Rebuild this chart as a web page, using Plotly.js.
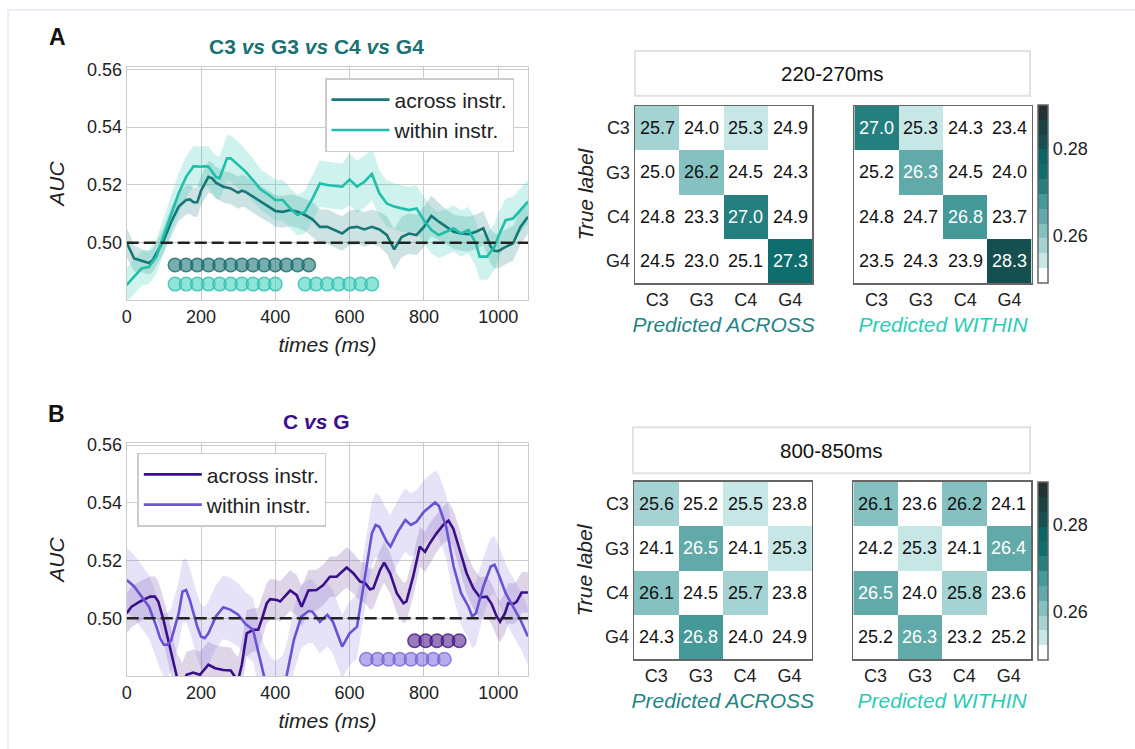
<!DOCTYPE html>
<html>
<head>
<meta charset="utf-8">
<script src="https://cdn.plot.ly/plotly-3.0.1.min.js"></script>
<style>
  html, body { margin: 0; padding: 0; background: #ffffff; }
  #chart { width: 1135px; height: 749px; }
</style>
</head>
<body>
<div id="chart"></div>
<script>
// ---------------- DATA ----------------
// Panel A: C3 vs G3 vs C4 vs G4
const tA_across = [0,10,20,40,60,70,80,100,120,140,160,170,180,190,200,220,230,240,260,280,300,310,320,340,360,380,400,420,440,460,480,500,520,540,560,580,600,620,640,660,680,700,720,740,760,780,800,820,840,860,880,900,920,940,960,980,990,1000,1020,1040,1060,1080];
const aucA_across = [0.500,0.4975,0.4946,0.4938,0.4930,0.4940,0.4963,0.5010,0.5073,0.5125,0.5148,0.5150,0.5140,0.5140,0.5180,0.5228,0.5223,0.5208,0.5194,0.5188,0.5173,0.5180,0.5176,0.5159,0.5142,0.5128,0.5110,0.5107,0.5113,0.5107,0.5096,0.5081,0.5055,0.5055,0.5044,0.5032,0.5052,0.5055,0.5046,0.5055,0.5046,0.5027,0.4977,0.5020,0.5032,0.5027,0.5055,0.5093,0.5073,0.5055,0.5038,0.5032,0.5030,0.5038,0.5050,0.4986,0.4972,0.4971,0.4986,0.4998,0.5055,0.5090];
const semA_across = [.005,.005,.0045,.004,.004,.004,.004,.0045,.005,.005,.005,.005,.005,.005,.005,.0055,.0055,.0055,.0055,.0055,.0055,.0055,.0055,.0055,.0055,.0055,.0055,.0055,.0055,.0055,.0055,.006,.006,.006,.006,.006,.006,.006,.006,.006,.006,.0065,.007,.007,.007,.007,.007,.007,.0065,.006,.006,.006,.006,.006,.006,.006,.006,.006,.006,.006,.006,.006];

const tA_within = [0,20,40,60,80,100,120,140,160,180,200,210,220,240,250,270,280,300,320,340,360,380,400,420,440,460,480,500,520,540,560,580,600,620,640,660,680,700,720,740,760,780,800,820,840,860,880,900,920,940,950,970,990,1000,1020,1040,1060,1080];
const aucA_within = [0.4854,0.4882,0.4911,0.4917,0.4952,0.5027,0.5101,0.5171,0.5228,0.5265,0.5263,0.5265,0.5263,0.5228,0.5223,0.5292,0.5292,0.5269,0.5246,0.5217,0.5185,0.5168,0.5148,0.5148,0.5119,0.5096,0.5107,0.5153,0.5205,0.5200,0.5196,0.5194,0.5219,0.5194,0.5211,0.5238,0.5171,0.5136,0.5125,0.5119,0.5113,0.5119,0.5078,0.5044,0.5027,0.5038,0.5050,0.5032,0.5044,0.4998,0.4952,0.4952,0.4986,0.5021,0.5078,0.5084,0.5113,0.5142];
const semA_within = [.006,.006,.006,.006,.006,.006,.0065,.007,.007,.007,.007,.007,.007,.0075,.0075,.008,.008,.008,.0075,.0075,.007,.007,.007,.007,.007,.007,.0075,.008,.008,.008,.008,.008,.009,.009,.009,.009,.008,.008,.008,.008,.008,.008,.008,.008,.008,.008,.008,.008,.008,.008,.008,.008,.008,.008,.0075,.0075,.0075,.0075];

const sigA_across = [130,160,190,220,250,280,310,340,370,400,430,460,490];
const sigA_within = [130,160,190,220,250,280,310,340,370,400,480,510,540,570,600,630,660];

// Panel B: C vs G
const tB_across = [0,13,36,63,76,85,99,112,126,135,150,161,179,197,220,238,260,280,291,300,310,323,341,354,363,377,386,404,413,440,457,471,489,511,529,547,565,583,592,610,628,641,655,664,682,693,709,727,745,753,771,789,803,816,834,852,866,879,897,915,933,951,969,982,996,1005,1018,1027,1041,1050,1063,1080];
const aucB_across = [0.5017,0.5040,0.5058,0.5075,0.5075,0.5058,0.4994,0.4925,0.4844,0.4798,0.4765,0.4804,0.4812,0.4804,0.4839,0.4827,0.4821,0.4819,0.4798,0.4785,0.4840,0.4948,0.4960,0.4960,0.4994,0.5052,0.5066,0.5063,0.5058,0.5096,0.5081,0.5040,0.5096,0.5098,0.5115,0.5144,0.5144,0.5167,0.5176,0.5156,0.5127,0.5123,0.5100,0.5104,0.5167,0.5193,0.5156,0.5087,0.5052,0.5058,0.5144,0.5248,0.5230,0.5260,0.5294,0.5323,0.5338,0.5311,0.5236,0.5156,0.5104,0.5072,0.5075,0.5050,0.5006,0.4988,0.5017,0.5052,0.5050,0.5058,0.5089,0.5089];
const semB_across = [.007,.007,.007,.007,.007,.007,.0075,.008,.008,.008,.008,.008,.008,.008,.008,.008,.008,.008,.008,.008,.008,.008,.0075,.0075,.0075,.007,.007,.007,.007,.007,.007,.007,.007,.007,.007,.007,.007,.007,.007,.007,.007,.007,.007,.007,.007,.007,.007,.007,.007,.007,.007,.007,.007,.007,.0065,.0065,.0065,.0065,.007,.007,.007,.007,.007,.007,.007,.007,.007,.007,.007,.007,.007,.007];

const tB_within = [0,20,40,60,80,90,100,110,120,140,150,160,170,190,200,210,220,240,260,280,300,320,340,360,370,385,400,420,430,450,470,490,500,520,540,555,570,580,600,620,640,660,670,680,700,710,730,750,765,780,800,830,840,860,880,900,920,930,940,960,980,990,1000,1020,1040,1060,1080];
const aucB_within = [0.5133,0.5110,0.5075,0.5040,0.4971,0.4931,0.4908,0.4908,0.4925,0.5017,0.5092,0.5098,0.5063,0.4971,0.4937,0.4931,0.4948,0.5006,0.5038,0.5029,0.5012,0.4980,0.4960,0.4844,0.4798,0.4760,0.4740,0.4760,0.4798,0.4925,0.5006,0.5025,0.5023,0.4988,0.5012,0.4988,0.4937,0.4902,0.4948,0.4971,0.5133,0.5294,0.5323,0.5317,0.5265,0.5248,0.5300,0.5340,0.5323,0.5334,0.5369,0.5401,0.5390,0.5317,0.5179,0.5087,0.5040,0.5006,0.5017,0.5110,0.5179,0.5185,0.5156,0.5087,0.5040,0.4994,0.4937];
const semB_within = [.011,.011,.011,.011,.011,.011,.011,.011,.011,.011,.011,.011,.011,.011,.011,.011,.011,.011,.011,.011,.011,.011,.011,.011,.011,.011,.011,.011,.011,.011,.011,.011,.011,.011,.011,.011,.011,.011,.011,.011,.011,.011,.011,.011,.011,.011,.011,.011,.011,.011,.011,.011,.011,.011,.011,.011,.011,.011,.011,.01,.01,.01,.01,.01,.01,.01,.01];

const sigB_across = [775,805,835,865,895];
const sigB_within = [645,675,705,735,765,795,825,855];

// Confusion matrices (percent)
const labels = ['C3','G3','C4','G4'];
const confA_across = [[25.7,24.0,25.3,24.9],[25.0,26.2,24.5,24.3],[24.8,23.3,27.0,24.9],[24.5,23.0,25.1,27.3]];
const confA_within = [[27.0,25.3,24.3,23.4],[25.2,26.3,24.5,24.0],[24.8,24.7,26.8,23.7],[23.5,24.3,23.9,28.3]];
const confB_across = [[25.6,25.2,25.5,23.8],[24.1,26.5,24.1,25.3],[26.1,24.5,25.7,23.8],[24.3,26.8,24.0,24.9]];
const confB_within = [[26.1,23.6,26.2,24.1],[24.2,25.3,24.1,26.4],[26.5,24.0,25.8,23.6],[25.2,26.3,23.2,25.2]];

const windowA = '220-270ms';
const windowB = '800-850ms';
const timeTicks = [0,200,400,600,800,1000];
const aucTicks = [0.50,0.52,0.54,0.56];
const cbarTicks = [0.26,0.28];

// ---------------- STYLE ----------------
const W = 1135, H = 749;
const FONT = 'Liberation Sans, Arial, sans-serif';
const px = v => v / W;
const py = v => 1 - v / H;

const colA_across = '#177777', colA_within = '#1fbfaa';
const colB_across = '#3b0f8c', colB_within = '#6a52d6';

const binColors = ['#ffffff','#c7e7e7','#a5d3d3','#86c1c1','#62aaaa','#469999','#267f7f','#0f6d6d','#0c6464','#164f4f','#1b4242','#223232'];
const zmin = 0.24915, zmax = 0.28995;
const colorscale = [];
binColors.forEach((c, i) => {
  colorscale.push([i / binColors.length, c]);
  colorscale.push([(i + 1) / binColors.length, c]);
});

function band(t, m, s, xa, ya, fill) {
  const up = m.map((v, i) => v + s[i]);
  const lo = m.map((v, i) => v - s[i]);
  return {
    x: t.concat(t.slice().reverse()),
    y: up.concat(lo.slice().reverse()),
    type: 'scatter', mode: 'lines', fill: 'toself', fillcolor: fill,
    line: {width: 0, color: 'rgba(0,0,0,0)'}, hoverinfo: 'skip', showlegend: false,
    xaxis: xa, yaxis: ya
  };
}
function line(t, m, color, name, xa, ya, legend) {
  return {x: t, y: m, type: 'scatter', mode: 'lines', name: name,
    line: {color: color, width: 2.6}, xaxis: xa, yaxis: ya, legend: legend, showlegend: true};
}
function dots(t, yv, fill, edge, xa, ya) {
  return {x: t, y: t.map(() => yv), type: 'scatter', mode: 'markers', showlegend: false,
    marker: {size: 13.5, color: fill, line: {color: edge, width: 1.5}}, xaxis: xa, yaxis: ya, cliponaxis: false};
}
function heat(conf, xa, ya, showscale, cbY) {
  const tr = {
    z: conf.map(r => r.map(v => v / 100)), x: labels, y: labels, type: 'heatmap',
    zmin: zmin, zmax: zmax, colorscale: colorscale, showscale: showscale,
    xaxis: xa, yaxis: ya, hoverinfo: 'skip'
  };
  if (showscale) {
    tr.colorbar = {x: px(1038), xanchor: 'left', y: cbY, yanchor: 'middle',
      len: 178 / H, lenmode: 'fraction', thickness: 10, thicknessmode: 'pixels',
      outlinecolor: '#666666', outlinewidth: 1.5, tickvals: cbarTicks, tickformat: '.2f',
      ticks: '', tickfont: {size: 18, color: '#222', family: FONT}, xpad: 0, ypad: 0, ticklabelpad: 6};
  }
  return tr;
}

const data = [
  band(tA_across, aucA_across, semA_across, 'x', 'y', 'rgba(26,128,128,0.22)'),
  band(tA_within, aucA_within, semA_within, 'x', 'y', 'rgba(60,205,185,0.25)'),
  line(tA_across, aucA_across, colA_across, 'across instr.', 'x', 'y', 'legend'),
  line(tA_within, aucA_within, colA_within, 'within instr.', 'x', 'y', 'legend'),
  dots(sigA_across, 0.4923, 'rgba(30,120,120,0.6)', 'rgba(20,100,100,0.75)', 'x', 'y'),
  dots(sigA_within, 0.4857, 'rgba(70,210,190,0.6)', 'rgba(40,190,170,0.75)', 'x', 'y'),

  band(tB_across, aucB_across, semB_across, 'x2', 'y2', 'rgba(105,65,150,0.22)'),
  band(tB_within, aucB_within, semB_within, 'x2', 'y2', 'rgba(140,125,225,0.22)'),
  line(tB_across, aucB_across, colB_across, 'across instr.', 'x2', 'y2', 'legend2'),
  line(tB_within, aucB_within, colB_within, 'within instr.', 'x2', 'y2', 'legend2'),
  dots(sigB_across, 0.4922, 'rgba(85,35,145,0.6)', 'rgba(60,15,120,0.75)', 'x2', 'y2'),
  dots(sigB_within, 0.4858, 'rgba(125,105,220,0.55)', 'rgba(110,90,210,0.7)', 'x2', 'y2'),

  heat(confA_across, 'x3', 'y3', false),
  heat(confA_within, 'x4', 'y4', true, 1 - 194.2 / H),
  heat(confB_across, 'x5', 'y5', false),
  heat(confB_within, 'x6', 'y6', true, 1 - 570.5 / H)
];

const tickFont = {size: 18, color: '#222', family: FONT};
function lineX(domain, anchor) {
  return {domain: domain, anchor: anchor, range: [0, 1081], tickvals: timeTicks, showgrid: true,
    gridcolor: '#cccccc', gridwidth: 1, showline: true, linecolor: '#cccccc', linewidth: 1, mirror: true,
    zeroline: false, ticks: '', tickfont: tickFont,
    title: {text: '<i>times (ms)</i>', font: {size: 21, color: '#222', family: FONT}, standoff: 11}};
}
function lineY(domain, anchor, range) {
  return {domain: domain, anchor: anchor, range: range, tickvals: aucTicks, tickformat: '.2f', showgrid: true,
    gridcolor: '#cccccc', gridwidth: 1, showline: true, linecolor: '#cccccc', linewidth: 1, mirror: true,
    zeroline: false, ticks: '', tickfont: tickFont,
    title: {text: '<i>AUC</i>', font: {size: 21, color: '#222', family: FONT}, standoff: 16}};
}
function hmX(domain, anchor, title, color) {
  return {domain: domain, anchor: anchor, type: 'category', categoryorder: 'array', categoryarray: labels,
    showgrid: false, zeroline: false, showline: true, mirror: true, linecolor: '#666666', linewidth: 1.5,
    ticks: '', tickfont: tickFont,
    title: {text: '<i>' + title + '</i>', font: {size: 21, color: color, family: FONT}, standoff: 8}};
}
function hmY(domain, anchor, showLabels) {
  const ax = {domain: domain, anchor: anchor, type: 'category', categoryorder: 'array', categoryarray: labels,
    autorange: 'reversed', showgrid: false, zeroline: false, showline: true, mirror: true,
    linecolor: '#666666', linewidth: 1.5, ticks: '', tickfont: tickFont, showticklabels: showLabels};
  if (showLabels) ax.title = {text: '<i>True label</i>', font: {size: 21, color: '#222', family: FONT}, standoff: 6};
  return ax;
}

const annotations = [];
function cellText(conf, xa, ya) {
  conf.forEach((row, i) => row.forEach((v, j) => {
    annotations.push({x: labels[j], y: labels[i], xref: xa, yref: ya, text: v.toFixed(1), showarrow: false,
      xanchor: 'center', yanchor: 'middle',
      font: {size: 18, family: FONT, color: v >= 26.3 ? '#ffffff' : '#111111'}});
  }));
}
cellText(confA_across, 'x3', 'y3');
cellText(confA_within, 'x4', 'y4');
cellText(confB_across, 'x5', 'y5');
cellText(confB_within, 'x6', 'y6');

function paperText(x, y, text, size, color) {
  return {x: px(x), y: py(y), xref: 'paper', yref: 'paper', xanchor: 'center', yanchor: 'middle',
    text: text, showarrow: false, font: {size: size, color: color, family: FONT}};
}
annotations.push(
  paperText(57, 37, '<b>A</b>', 23, '#111'),
  paperText(56, 414, '<b>B</b>', 23, '#111'),
  paperText(316, 47, '<b>C3 <i>vs</i> G3 <i>vs</i> C4 <i>vs</i> G4</b>', 21, '#197272'),
  paperText(316, 421, '<b>C <i>vs</i> G</b>', 21, colB_across),
  paperText(832.5, 73.5, windowA, 20.5, '#111'),
  paperText(831.5, 450.5, windowB, 20.5, '#111')
);

const layout = {
  width: W, height: H, margin: {l: 0, r: 0, t: 0, b: 0},
  paper_bgcolor: '#ffffff', plot_bgcolor: '#ffffff',
  font: {family: FONT, color: '#222'},
  xaxis: lineX([px(126.7), px(528.3)], 'y'),
  yaxis: lineY([py(300), py(67)], 'x', [0.4802, 0.5608]),
  xaxis2: lineX([px(126.7), px(528.3)], 'y2'),
  yaxis2: lineY([py(676), py(443)], 'x2', [0.4800, 0.5607]),
  xaxis3: hmX([px(635), px(812.3)], 'y3', 'Predicted ACROSS', '#1f8585'),
  yaxis3: hmY([py(283.3), py(106)], 'x3', true),
  xaxis4: hmX([px(854.3), px(1031.7)], 'y4', 'Predicted WITHIN', '#2ccbb5'),
  yaxis4: hmY([py(283.3), py(106)], 'x4', false),
  xaxis5: hmX([px(634), px(811.7)], 'y5', 'Predicted ACROSS', '#1f8585'),
  yaxis5: hmY([py(659.3), py(481.7)], 'x5', true),
  xaxis6: hmX([px(853.3), px(1031)], 'y6', 'Predicted WITHIN', '#2ccbb5'),
  yaxis6: hmY([py(659.3), py(481.7)], 'x6', false),
  legend: {x: px(325), y: py(78), xanchor: 'left', yanchor: 'top', bgcolor: '#ffffff', itemwidth: 58,
    bordercolor: '#cccccc', borderwidth: 1.5, font: {size: 21, color: '#222', family: FONT}, tracegroupgap: 0},
  legend2: {x: px(137.3), y: py(452.7), xanchor: 'left', yanchor: 'top', bgcolor: '#ffffff', itemwidth: 58,
    bordercolor: '#cccccc', borderwidth: 1.5, font: {size: 21, color: '#222', family: FONT}, tracegroupgap: 0},
  shapes: [
    {type: 'rect', xref: 'paper', yref: 'paper', x0: px(8), x1: 1.01, y0: -0.02, y1: py(10),
      line: {color: '#ececfa', width: 2}, layer: 'below'},
    {type: 'line', xref: 'x', yref: 'y', x0: 0, x1: 1081, y0: 0.5, y1: 0.5, line: {color: '#222', width: 2.6, dash: '12px,5px'}, layer: 'above'},
    {type: 'line', xref: 'x2', yref: 'y2', x0: 0, x1: 1081, y0: 0.5, y1: 0.5, line: {color: '#222', width: 2.6, dash: '12px,5px'}, layer: 'above'},
    {type: 'rect', xref: 'paper', yref: 'paper', x0: px(635), x1: px(1030), y0: py(95.7), y1: py(51),
      line: {color: '#e2e2e2', width: 2}, fillcolor: 'rgba(0,0,0,0)'},
    {type: 'rect', xref: 'paper', yref: 'paper', x0: px(633), x1: px(1030), y0: py(473.3), y1: py(427.3),
      line: {color: '#e2e2e2', width: 2}, fillcolor: 'rgba(0,0,0,0)'}
  ],
  annotations: annotations
};

Plotly.newPlot('chart', data, layout, {displayModeBar: false, staticPlot: true});
</script>
</body>
</html>
